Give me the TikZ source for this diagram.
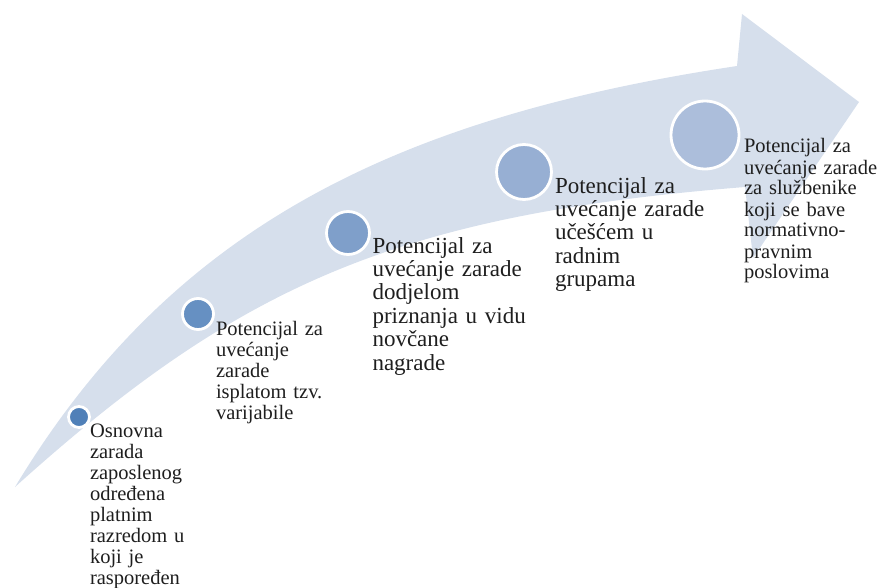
\documentclass[tikz,border=0pt]{standalone}
\usepackage{fontspec}
\setmainfont{Liberation Serif}
\definecolor{arrowfill}{HTML}{D6DFEC}
\definecolor{cA}{HTML}{5080B8}
\definecolor{cB}{HTML}{6690C2}
\definecolor{cC}{HTML}{7F9FCA}
\definecolor{cD}{HTML}{97AFD3}
\definecolor{cE}{HTML}{ACBEDB}
\definecolor{txtc}{HTML}{1E1E1E}
\tikzset{
  dot/.style={circle, draw=white, line width=2.8pt, inner sep=0pt},
  lbls/.style={anchor=base west, inner sep=0pt, outer sep=0pt, align=left, text=txtc,
    font=\fontsize{20.5pt}{21pt}\selectfont},
  lbll/.style={anchor=base west, inner sep=0pt, outer sep=0pt, align=left, text=txtc,
    font=\fontsize{23pt}{23.4pt}\selectfont}
}
\begin{document}
\begin{tikzpicture}[x=1pt,y=-1pt]
\useasboundingbox (0,0) rectangle (882,588);
% arrow body and head
\fill[arrowfill] (15,487) .. controls (170,230) and (391,118) .. (737,66)
  -- (742,14) -- (859,102) -- (753,258) -- (745,187)
  .. controls (395,215) and (238,286) .. (15,487) -- cycle;
% circles
\node[dot, fill=cA, minimum size=21pt] (d1) at (79,417) {};
\node[dot, fill=cB, minimum size=31pt] (d2) at (198,314) {};
\node[dot, fill=cC, minimum size=43pt] (d3) at (348,233) {};
\node[dot, fill=cD, minimum size=55pt] (d4) at (524,172) {};
\node[dot, fill=cE, minimum size=68pt] (d5) at (705,135) {};
% labels
\node[lbls, text width=100pt] (t1) at (90,437) {Osnovna\\zarada\\zaposlenog\\određena\\platnim\\razredom u\\koji je\\raspoređen};
\node[lbls, text width=115pt] (t2) at (216,335) {Potencijal za\\uvećanje\\zarade\\isplatom tzv.\\varijabile};
\node[lbll, text width=155pt] (t3) at (372.5,253) {Potencijal za\\uvećanje zarade\\dodjelom\\priznanja u vidu\\novčane\\nagrade};
\node[lbll, text width=155pt] (t4) at (555,193) {Potencijal za\\uvećanje zarade\\učešćem u\\radnim\\grupama};
\node[lbls, text width=137pt] (t5) at (744,153) {Potencijal za\\uvećanje zarade\\za službenike\\koji se bave\\normativno-\\pravnim\\poslovima};
\end{tikzpicture}
\end{document}
